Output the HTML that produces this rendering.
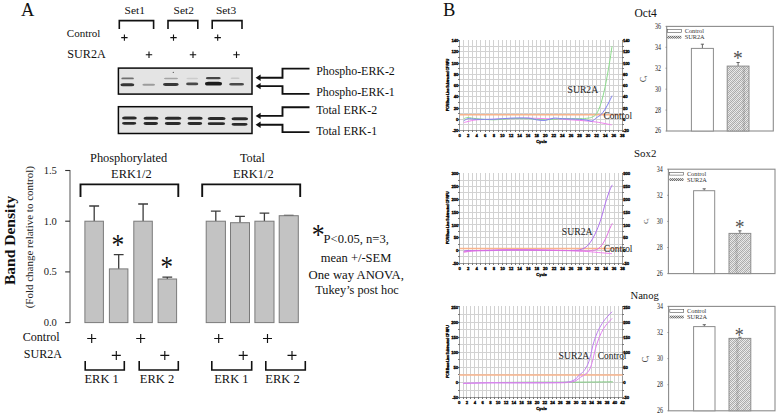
<!DOCTYPE html>
<html><head><meta charset="utf-8"><style>
html,body{margin:0;padding:0;background:#fff;width:780px;height:420px;overflow:hidden}
svg{display:block}
</style></head><body>
<svg width="780" height="420" viewBox="0 0 780 420">
<rect width="780" height="420" fill="#fff"/>
<g style="font-family:'Liberation Serif',serif" fill="#111">
<text x="21" y="16.3" font-size="18.5" text-anchor="start" >A</text>
<text x="134.75" y="14" font-size="11.4" text-anchor="middle" >Set1</text>
<text x="183.75" y="14" font-size="11.4" text-anchor="middle" >Set2</text>
<text x="226.05" y="14" font-size="11.4" text-anchor="middle" >Set3</text>
<text x="66.8" y="36.8" font-size="11.0" text-anchor="start" >Control</text>
<text x="67.2" y="57.5" font-size="12.2" text-anchor="start" >SUR2A</text>
</g>
<path d="M119.3,29V20.6H153.6V29" stroke="#111" stroke-width="1.6" fill="none"/>
<path d="M168,29V20.6H197.8V29" stroke="#111" stroke-width="1.6" fill="none"/>
<path d="M212.2,29V20.6H242V29" stroke="#111" stroke-width="1.6" fill="none"/>
<path d="M121.2,37.6H127.60000000000001M124.4,34.4V40.800000000000004" stroke="#111" stroke-width="1.1" fill="none"/>
<path d="M170.3,37.6H176.7M173.5,34.4V40.800000000000004" stroke="#111" stroke-width="1.1" fill="none"/>
<path d="M214.5,37.6H220.89999999999998M217.7,34.4V40.800000000000004" stroke="#111" stroke-width="1.1" fill="none"/>
<path d="M145.8,54.8H152.2M149,51.599999999999994V58.0" stroke="#111" stroke-width="1.1" fill="none"/>
<path d="M189.8,54.8H196.2M193,51.599999999999994V58.0" stroke="#111" stroke-width="1.1" fill="none"/>
<path d="M233.3,54.8H239.7M236.5,51.599999999999994V58.0" stroke="#111" stroke-width="1.1" fill="none"/>
<defs><filter id="bl" x="-30%" y="-100%" width="160%" height="300%"><feGaussianBlur stdDeviation="0.55"/></filter><filter id="bl2" x="-30%" y="-100%" width="160%" height="300%"><feGaussianBlur stdDeviation="0.35"/></filter></defs>
<rect x="118.4" y="68.1" width="133.6" height="26" fill="#e4e4e4" stroke="#0a0a0a" stroke-width="1.5"/>
<rect x="118.4" y="106.7" width="133.6" height="26.8" fill="#e4e4e4" stroke="#0a0a0a" stroke-width="1.5"/>
<rect x="121.3" y="77.50" width="12.6" height="1.80" rx="1.62" ry="0.90" fill="#707070" opacity="1.0" filter="url(#bl)"/>
<rect x="164.0" y="77.70" width="14.0" height="1.60" rx="1.44" ry="0.80" fill="#a4a4a4" opacity="1.0" filter="url(#bl)"/>
<rect x="186.5" y="77.65" width="11.5" height="1.50" rx="1.35" ry="0.75" fill="#ccc" opacity="1.0" filter="url(#bl)"/>
<rect x="205.9" y="77.10" width="14.8" height="2.20" rx="1.98" ry="1.10" fill="#444" opacity="1.0" filter="url(#bl)"/>
<rect x="230.6" y="77.45" width="9.0" height="1.50" rx="1.35" ry="0.75" fill="#c8c8c8" opacity="1.0" filter="url(#bl)"/>
<rect x="120.4" y="83.30" width="13.9" height="3.00" rx="2.70" ry="1.50" fill="#353535" opacity="1.0" filter="url(#bl)"/>
<rect x="142.4" y="83.80" width="12.6" height="2.00" rx="1.80" ry="1.00" fill="#9c9c9c" opacity="1.0" filter="url(#bl)"/>
<rect x="163.0" y="83.05" width="15.7" height="2.90" rx="2.61" ry="1.45" fill="#383838" opacity="1.0" filter="url(#bl)"/>
<rect x="186.1" y="82.60" width="12.2" height="2.60" rx="2.34" ry="1.30" fill="#4a4a4a" opacity="1.0" filter="url(#bl)"/>
<rect x="205.0" y="81.80" width="17.0" height="3.80" rx="3.42" ry="1.90" fill="#1e1e1e" opacity="1.0" filter="url(#bl)"/>
<rect x="229.2" y="82.90" width="14.8" height="2.60" rx="2.34" ry="1.30" fill="#484848" opacity="1.0" filter="url(#bl)"/>
<rect x="122.0" y="116.40" width="14.8" height="3.00" rx="2.70" ry="1.50" fill="#2b2b2b" opacity="1.0" filter="url(#bl)"/>
<rect x="122.0" y="121.90" width="14.3" height="2.80" rx="2.52" ry="1.40" fill="#2b2b2b" opacity="1.0" filter="url(#bl)"/>
<rect x="143.5" y="116.70" width="15.0" height="3.00" rx="2.70" ry="1.50" fill="#2b2b2b" opacity="1.0" filter="url(#bl)"/>
<rect x="143.5" y="122.10" width="14.5" height="2.80" rx="2.52" ry="1.40" fill="#2b2b2b" opacity="1.0" filter="url(#bl)"/>
<rect x="164.8" y="116.80" width="16.6" height="3.00" rx="2.70" ry="1.50" fill="#2b2b2b" opacity="1.0" filter="url(#bl)"/>
<rect x="164.8" y="122.10" width="16.1" height="2.80" rx="2.52" ry="1.40" fill="#2b2b2b" opacity="1.0" filter="url(#bl)"/>
<rect x="187.5" y="116.80" width="15.2" height="3.00" rx="2.70" ry="1.50" fill="#2b2b2b" opacity="1.0" filter="url(#bl)"/>
<rect x="187.5" y="122.10" width="14.7" height="2.80" rx="2.52" ry="1.40" fill="#2b2b2b" opacity="1.0" filter="url(#bl)"/>
<rect x="207.7" y="117.10" width="17.9" height="3.00" rx="2.70" ry="1.50" fill="#2b2b2b" opacity="1.0" filter="url(#bl)"/>
<rect x="207.7" y="122.30" width="17.4" height="2.80" rx="2.52" ry="1.40" fill="#2b2b2b" opacity="1.0" filter="url(#bl)"/>
<rect x="231.5" y="117.30" width="16.6" height="3.00" rx="2.70" ry="1.50" fill="#2b2b2b" opacity="1.0" filter="url(#bl)"/>
<rect x="231.5" y="122.90" width="16.1" height="2.80" rx="2.52" ry="1.40" fill="#2b2b2b" opacity="1.0" filter="url(#bl)"/>
<circle cx="173.3" cy="72.4" r="0.6" fill="#555"/>
<path d="M259.5,77.7H282.5V68.6H309.5" stroke="#111" stroke-width="1.9" fill="none"/>
<path d="M255.6,77.7L260.6,74.5V80.9Z" fill="#111"/>
<path d="M259.5,86.1H282.5V93.9H309.5" stroke="#111" stroke-width="1.9" fill="none"/>
<path d="M255.6,86.1L260.6,82.89999999999999V89.3Z" fill="#111"/>
<path d="M259.5,115.9H282.5V107.2H309.5" stroke="#111" stroke-width="1.9" fill="none"/>
<path d="M255.6,115.9L260.6,112.7V119.10000000000001Z" fill="#111"/>
<path d="M259.5,124.8H282.5V132.1H309.5" stroke="#111" stroke-width="1.9" fill="none"/>
<path d="M255.6,124.8L260.6,121.6V128.0Z" fill="#111"/>
<g style="font-family:'Liberation Serif',serif" fill="#111">
<text x="316.2" y="75.4" font-size="11.9" text-anchor="start" >Phospho-ERK-2</text>
<text x="316.2" y="95.6" font-size="11.9" text-anchor="start" >Phospho-ERK-1</text>
<text x="316.2" y="113.6" font-size="11.9" text-anchor="start" >Total ERK-2</text>
<text x="316.2" y="135.0" font-size="11.9" text-anchor="start" >Total ERK-1</text>
</g>
<path d="M70,170.0V323.1" stroke="#707070" stroke-width="1.2" fill="none"/>
<path d="M65.2,322.6H70" stroke="#333" stroke-width="1.1"/>
<path d="M65.2,271.9H70" stroke="#333" stroke-width="1.1"/>
<path d="M65.2,221.2H70" stroke="#333" stroke-width="1.1"/>
<path d="M65.2,170.5H70" stroke="#333" stroke-width="1.1"/>
<g style="font-family:'Liberation Serif',serif" fill="#222">
<text x="56.9" y="325.90000000000003" font-size="10.6" text-anchor="end" >0.0</text>
<text x="56.9" y="275.20000000000005" font-size="10.6" text-anchor="end" >0.5</text>
<text x="56.9" y="224.50000000000003" font-size="10.6" text-anchor="end" >1.0</text>
<text x="56.9" y="173.8" font-size="10.6" text-anchor="end" >1.5</text>
</g>
<path d="M94.2,221.2V206.0M89.2,206.0H99.1" stroke="#3c3c3c" stroke-width="1.3" fill="none"/>
<rect x="84.9" y="221.2" width="18.5" height="101.4" fill="#c3c3c3" stroke="#7a7a7a" stroke-width="1"/>
<path d="M118.7,268.9V254.7M113.8,254.7H123.6" stroke="#3c3c3c" stroke-width="1.3" fill="none"/>
<rect x="109.4" y="268.9" width="18.5" height="53.7" fill="#c3c3c3" stroke="#7a7a7a" stroke-width="1"/>
<path d="M143.1,221.2V204.0M138.2,204.0H148.0" stroke="#3c3c3c" stroke-width="1.3" fill="none"/>
<rect x="133.8" y="221.2" width="18.5" height="101.4" fill="#c3c3c3" stroke="#7a7a7a" stroke-width="1"/>
<path d="M167.3,279.0V277.2M162.4,277.2H172.2" stroke="#3c3c3c" stroke-width="1.3" fill="none"/>
<rect x="158.1" y="279.0" width="18.5" height="43.6" fill="#c3c3c3" stroke="#7a7a7a" stroke-width="1"/>
<path d="M215.8,221.2V211.1M210.9,211.1H220.7" stroke="#3c3c3c" stroke-width="1.3" fill="none"/>
<rect x="206.2" y="221.2" width="19.2" height="101.4" fill="#c3c3c3" stroke="#7a7a7a" stroke-width="1"/>
<path d="M240.0,222.7V216.3M235.1,216.3H244.9" stroke="#3c3c3c" stroke-width="1.3" fill="none"/>
<rect x="230.5" y="222.7" width="19.0" height="99.9" fill="#c3c3c3" stroke="#7a7a7a" stroke-width="1"/>
<path d="M264.4,221.2V213.1M259.6,213.1H269.3" stroke="#3c3c3c" stroke-width="1.3" fill="none"/>
<rect x="254.9" y="221.2" width="19.1" height="101.4" fill="#c3c3c3" stroke="#7a7a7a" stroke-width="1"/>
<path d="M288.8,215.7V215.3M283.9,215.3H293.6" stroke="#3c3c3c" stroke-width="1.3" fill="none"/>
<rect x="279.2" y="215.7" width="19.1" height="106.9" fill="#c3c3c3" stroke="#7a7a7a" stroke-width="1"/>
<text x="0" y="93.5" font-size="200" text-anchor="middle" transform="translate(117.8,240.9) scale(0.1275,0.1452)" style="font-family:'Liberation Serif',serif" fill="#111">*</text>
<text x="0" y="93.5" font-size="200" text-anchor="middle" transform="translate(166.7,262.3) scale(0.1250,0.1507)" style="font-family:'Liberation Serif',serif" fill="#111">*</text>
<text x="0" y="93.5" font-size="200" text-anchor="middle" transform="translate(318.1,230.4) scale(0.1288,0.1507)" style="font-family:'Liberation Serif',serif" fill="#111">*</text>
<g style="font-family:'Liberation Serif',serif" fill="#111">
<text x="128.55" y="161.7" font-size="12.4" text-anchor="middle" >Phosphorylated</text>
<text x="131.4" y="178.0" font-size="12.4" text-anchor="middle" >ERK1/2</text>
<text x="252.4" y="162.0" font-size="12.2" text-anchor="middle" >Total</text>
<text x="253.3" y="178.0" font-size="12.4" text-anchor="middle" >ERK1/2</text>
<text x="356.25" y="243.4" font-size="12.6" text-anchor="middle" >P&lt;0.05, n=3,</text>
<text x="356.0" y="262.4" font-size="12.5" text-anchor="middle" >mean +/-SEM</text>
<text x="356.25" y="278.8" font-size="12.7" text-anchor="middle" >One way ANOVA,</text>
<text x="357.0" y="294.3" font-size="12.3" text-anchor="middle" >Tukey’s post hoc</text>
<text x="59.6" y="341.1" font-size="12.1" text-anchor="end" >Control</text>
<text x="62.0" y="357.5" font-size="12.1" text-anchor="end" >SUR2A</text>
<text x="101.65" y="382.7" font-size="12.5" text-anchor="middle" >ERK 1</text>
<text x="157.0" y="382.7" font-size="12.5" text-anchor="middle" >ERK 2</text>
<text x="231.35" y="382.7" font-size="12.5" text-anchor="middle" >ERK 1</text>
<text x="282.5" y="382.7" font-size="12.5" text-anchor="middle" >ERK 2</text>
</g>
<text transform="translate(14.7,240.4) rotate(-90)" font-size="15.5" font-weight="bold" text-anchor="middle" style="font-family:'Liberation Serif',serif" fill="#111">Band Density</text>
<text transform="translate(33.0,237.2) rotate(-90)" font-size="11.0" text-anchor="middle" style="font-family:'Liberation Serif',serif" fill="#222">(Fold change relative to control)</text>
<path d="M80.5,197.0V184.4H178.3V197.0" stroke="#111" stroke-width="1.9" fill="none"/>
<path d="M202.2,197.0V184.4H300.2V197.0" stroke="#111" stroke-width="1.9" fill="none"/>
<path d="M87.2,338.5H96.2M91.7,334.0V343.0" stroke="#111" stroke-width="1.15" fill="none"/>
<path d="M136.2,338.5H145.2M140.7,334.0V343.0" stroke="#111" stroke-width="1.15" fill="none"/>
<path d="M214.2,338.5H223.2M218.7,334.0V343.0" stroke="#111" stroke-width="1.15" fill="none"/>
<path d="M263.0,338.5H272.0M267.5,334.0V343.0" stroke="#111" stroke-width="1.15" fill="none"/>
<path d="M111.8,355.4H120.8M116.3,350.9V359.9" stroke="#111" stroke-width="1.15" fill="none"/>
<path d="M160.3,355.4H169.3M164.8,350.9V359.9" stroke="#111" stroke-width="1.15" fill="none"/>
<path d="M238.7,355.4H247.7M243.2,350.9V359.9" stroke="#111" stroke-width="1.15" fill="none"/>
<path d="M287.5,355.4H296.5M292.0,350.9V359.9" stroke="#111" stroke-width="1.15" fill="none"/>
<path d="M85.2,361V370H124.3V361" stroke="#111" stroke-width="1.6" fill="none"/>
<path d="M139.2,361V370H178.3V361" stroke="#111" stroke-width="1.6" fill="none"/>
<path d="M211.8,361V370H251.7V361" stroke="#111" stroke-width="1.6" fill="none"/>
<path d="M265.8,361V370H305.3V361" stroke="#111" stroke-width="1.6" fill="none"/>
<text x="443" y="16.3" font-size="18.5" style="font-family:'Liberation Serif',serif" fill="#111">B</text>
<path d="M463.5,40V131M468.5,40V131M472.5,40V131M476.5,40V131M480.5,40V131M485.5,40V131M489.5,40V131M493.5,40V131M498.5,40V131M502.5,40V131M506.5,40V131M510.5,40V131M515.5,40V131M519.5,40V131M523.5,40V131M528.5,40V131M532.5,40V131M536.5,40V131M540.5,40V131M545.5,40V131M549.5,40V131M553.5,40V131M558.5,40V131M562.5,40V131M566.5,40V131M570.5,40V131M575.5,40V131M579.5,40V131M583.5,40V131M588.5,40V131M592.5,40V131M596.5,40V131M600.5,40V131M605.5,40V131M609.5,40V131M613.5,40V131M618.5,40V131M459,46.5H623M459,51.5H623M459,57.5H623M459,63.5H623M459,68.5H623M459,74.5H623M459,79.5H623M459,85.5H623M459,91.5H623M459,96.5H623M459,102.5H623M459,108.5H623M459,113.5H623M459,119.5H623M459,124.5H623" stroke="#d2d2d2" stroke-width="1" fill="none" shape-rendering="crispEdges"/>
<path d="M459.5,40.5V130.5H622.5V40.5" fill="none" stroke="#9a9a9a" stroke-width="1" shape-rendering="crispEdges"/>
<path d="M459.5,130V132M463.5,130V132M468.5,130V132M472.5,130V132M476.5,130V132M480.5,130V132M485.5,130V132M489.5,130V132M493.5,130V132M498.5,130V132M502.5,130V132M506.5,130V132M510.5,130V132M515.5,130V132M519.5,130V132M523.5,130V132M528.5,130V132M532.5,130V132M536.5,130V132M540.5,130V132M545.5,130V132M549.5,130V132M553.5,130V132M558.5,130V132M562.5,130V132M566.5,130V132M570.5,130V132M575.5,130V132M579.5,130V132M583.5,130V132M588.5,130V132M592.5,130V132M596.5,130V132M600.5,130V132M605.5,130V132M609.5,130V132M613.5,130V132M618.5,130V132M622.5,130V132M458,40.5H460M622,40.5H624M458,46.5H460M622,46.5H624M458,51.5H460M622,51.5H624M458,57.5H460M622,57.5H624M458,63.5H460M622,63.5H624M458,68.5H460M622,68.5H624M458,74.5H460M622,74.5H624M458,79.5H460M622,79.5H624M458,85.5H460M622,85.5H624M458,91.5H460M622,91.5H624M458,96.5H460M622,96.5H624M458,102.5H460M622,102.5H624M458,108.5H460M622,108.5H624M458,113.5H460M622,113.5H624M458,119.5H460M622,119.5H624M458,124.5H460M622,124.5H624M458,130.5H460M622,130.5H624" stroke="#777" stroke-width="1" fill="none" shape-rendering="crispEdges"/>
<path d="M459.5,114.77H622.3" stroke="#f8b48c" stroke-width="1.6"/>
<path d="M463.78,122.63C464.50,122.45 465.93,121.98 468.07,121.51C470.21,121.04 472.35,120.20 476.64,119.82C480.92,119.45 488.06,119.45 493.77,119.26C499.49,119.08 505.20,118.89 510.91,118.70C516.62,118.51 522.34,118.14 528.05,118.14C533.76,118.14 539.47,118.51 545.18,118.70C550.90,118.89 556.61,118.98 562.32,119.26C568.03,119.54 573.75,119.92 579.46,120.39C585.17,120.85 591.24,121.32 596.59,122.07C601.95,122.82 609.09,124.41 611.59,124.88" stroke="#f080f0" stroke-width="1.0" fill="none" stroke-linejoin="round"/>
<path d="M463.78,118.70C464.50,118.51 465.93,117.58 468.07,117.58C470.21,117.58 472.35,118.33 476.64,118.70C480.92,119.08 488.06,119.82 493.77,119.82C499.49,119.82 505.20,118.89 510.91,118.70C516.62,118.51 522.34,118.51 528.05,118.70C533.76,118.89 539.47,119.82 545.18,119.82C550.90,119.82 556.61,118.89 562.32,118.70C568.03,118.51 575.17,118.79 579.46,118.70C583.74,118.61 585.88,118.42 588.03,118.14C590.17,117.86 590.88,117.76 592.31,117.02C593.74,116.27 595.17,115.89 596.59,113.64C598.02,111.40 599.45,108.03 600.88,103.53C602.31,99.03 603.74,93.42 605.16,86.67C606.59,79.93 608.30,69.82 609.45,63.08C610.59,56.33 611.59,49.03 612.02,46.22" stroke="#8cdc8c" stroke-width="1.0" fill="none" stroke-linejoin="round"/>
<path d="M463.78,120.95C464.50,120.57 465.93,118.98 468.07,118.70C470.21,118.42 472.35,119.17 476.64,119.26C480.92,119.36 488.06,119.45 493.77,119.26C499.49,119.08 505.20,118.33 510.91,118.14C516.62,117.95 523.76,117.86 528.05,118.14C532.33,118.42 533.76,119.45 536.62,119.82C539.47,120.20 542.33,120.67 545.18,120.39C548.04,120.11 550.90,118.42 553.75,118.14C556.61,117.86 558.04,118.51 562.32,118.70C566.61,118.89 575.17,118.98 579.46,119.26C583.74,119.54 585.88,120.11 588.03,120.39C590.17,120.67 590.88,121.42 592.31,120.95C593.74,120.48 595.17,118.61 596.59,117.58C598.02,116.55 599.45,116.17 600.88,114.77C602.31,113.36 603.74,111.40 605.16,109.15C606.59,106.90 608.30,103.53 609.45,101.28C610.59,99.03 611.59,96.60 612.02,95.66" stroke="#8080f0" stroke-width="1.0" fill="none" stroke-linejoin="round"/>
<g style="font-family:'Liberation Sans',sans-serif" font-weight="bold" font-size="4.3" fill="#000" stroke="#000" stroke-width="0.3" letter-spacing="-0.15">
<text x="458.20" y="42.20" text-anchor="end">140</text>
<text x="622.90" y="42.20">140</text>
<text x="458.20" y="53.44" text-anchor="end">120</text>
<text x="622.90" y="53.44">120</text>
<text x="458.20" y="64.67" text-anchor="end">100</text>
<text x="622.90" y="64.67">100</text>
<text x="458.20" y="75.91" text-anchor="end">80</text>
<text x="622.90" y="75.91">80</text>
<text x="458.20" y="87.15" text-anchor="end">60</text>
<text x="622.90" y="87.15">60</text>
<text x="458.20" y="98.39" text-anchor="end">40</text>
<text x="622.90" y="98.39">40</text>
<text x="458.20" y="109.62" text-anchor="end">20</text>
<text x="622.90" y="109.62">20</text>
<text x="458.20" y="120.86" text-anchor="end">0</text>
<text x="622.90" y="120.86">0</text>
<text x="458.20" y="132.10" text-anchor="end">-20</text>
<text x="622.90" y="132.10">-20</text>
<text x="459.50" y="136.80" text-anchor="middle">0</text>
<text x="468.07" y="136.80" text-anchor="middle">2</text>
<text x="476.64" y="136.80" text-anchor="middle">4</text>
<text x="485.21" y="136.80" text-anchor="middle">6</text>
<text x="493.77" y="136.80" text-anchor="middle">8</text>
<text x="502.34" y="136.80" text-anchor="middle">10</text>
<text x="510.91" y="136.80" text-anchor="middle">12</text>
<text x="519.48" y="136.80" text-anchor="middle">14</text>
<text x="528.05" y="136.80" text-anchor="middle">16</text>
<text x="536.62" y="136.80" text-anchor="middle">18</text>
<text x="545.18" y="136.80" text-anchor="middle">20</text>
<text x="553.75" y="136.80" text-anchor="middle">22</text>
<text x="562.32" y="136.80" text-anchor="middle">24</text>
<text x="570.89" y="136.80" text-anchor="middle">26</text>
<text x="579.46" y="136.80" text-anchor="middle">28</text>
<text x="588.03" y="136.80" text-anchor="middle">30</text>
<text x="596.59" y="136.80" text-anchor="middle">32</text>
<text x="605.16" y="136.80" text-anchor="middle">34</text>
<text x="613.73" y="136.80" text-anchor="middle">36</text>
<text x="622.30" y="136.80" text-anchor="middle">38</text>
<text x="541.40" y="142.90" text-anchor="middle" font-size="4.2">Cycle</text>
<text transform="translate(449.30,84.95) rotate(-90)" text-anchor="middle" font-size="3.45">PCR Base Line Subtracted CF RFU</text>
</g>
<g style="font-family:'Liberation Serif',serif" fill="#222">
<text x="567.5" y="92.6" font-size="9.7" text-anchor="start" >SUR2A</text>
<text x="603.4" y="118.7" font-size="9.4" text-anchor="start" >Control</text>
</g>
<path d="M463.5,173V264M468.5,173V264M472.5,173V264M476.5,173V264M480.5,173V264M485.5,173V264M489.5,173V264M493.5,173V264M498.5,173V264M502.5,173V264M506.5,173V264M511.5,173V264M515.5,173V264M519.5,173V264M523.5,173V264M528.5,173V264M532.5,173V264M536.5,173V264M541.5,173V264M545.5,173V264M549.5,173V264M553.5,173V264M558.5,173V264M562.5,173V264M566.5,173V264M571.5,173V264M575.5,173V264M579.5,173V264M583.5,173V264M588.5,173V264M592.5,173V264M596.5,173V264M601.5,173V264M605.5,173V264M609.5,173V264M614.5,173V264M618.5,173V264M459,180.5H623M459,186.5H623M459,192.5H623M459,199.5H623M459,205.5H623M459,212.5H623M459,218.5H623M459,224.5H623M459,231.5H623M459,237.5H623M459,244.5H623M459,250.5H623M459,256.5H623" stroke="#d2d2d2" stroke-width="1" fill="none" shape-rendering="crispEdges"/>
<path d="M459.5,173.5V263.5H622.5V173.5" fill="none" stroke="#9a9a9a" stroke-width="1" shape-rendering="crispEdges"/>
<path d="M459.5,263V265M463.5,263V265M468.5,263V265M472.5,263V265M476.5,263V265M480.5,263V265M485.5,263V265M489.5,263V265M493.5,263V265M498.5,263V265M502.5,263V265M506.5,263V265M511.5,263V265M515.5,263V265M519.5,263V265M523.5,263V265M528.5,263V265M532.5,263V265M536.5,263V265M541.5,263V265M545.5,263V265M549.5,263V265M553.5,263V265M558.5,263V265M562.5,263V265M566.5,263V265M571.5,263V265M575.5,263V265M579.5,263V265M583.5,263V265M588.5,263V265M592.5,263V265M596.5,263V265M601.5,263V265M605.5,263V265M609.5,263V265M614.5,263V265M618.5,263V265M622.5,263V265M458,173.5H460M622,173.5H624M458,180.5H460M622,180.5H624M458,186.5H460M622,186.5H624M458,192.5H460M622,192.5H624M458,199.5H460M622,199.5H624M458,205.5H460M622,205.5H624M458,212.5H460M622,212.5H624M458,218.5H460M622,218.5H624M458,224.5H460M622,224.5H624M458,231.5H460M622,231.5H624M458,237.5H460M622,237.5H624M458,244.5H460M622,244.5H624M458,250.5H460M622,250.5H624M458,256.5H460M622,256.5H624M458,263.5H460M622,263.5H624" stroke="#777" stroke-width="1" fill="none" shape-rendering="crispEdges"/>
<path d="M459.5,248.52H622.6" stroke="#f8b48c" stroke-width="1.6"/>
<path d="M463.79,252.62C464.51,252.45 465.94,251.90 468.08,251.60C470.23,251.30 472.38,251.00 476.67,250.83C480.96,250.66 488.11,250.74 493.84,250.57C499.56,250.40 505.28,249.93 511.01,249.80C516.73,249.67 522.45,249.76 528.17,249.80C533.90,249.84 539.62,249.97 545.34,250.06C551.06,250.14 556.79,250.14 562.51,250.31C568.23,250.49 575.39,250.87 579.68,251.08C583.97,251.30 585.40,251.38 588.26,251.60C591.12,251.81 592.91,252.03 596.85,252.37C600.78,252.71 609.37,253.44 611.87,253.65" stroke="#f080f0" stroke-width="1.0" fill="none" stroke-linejoin="round"/>
<path d="M463.79,251.08C464.51,251.00 464.51,250.66 468.08,250.57C471.66,250.49 479.53,250.66 485.25,250.57C490.98,250.49 495.27,250.14 502.42,250.06C509.57,249.97 521.02,250.02 528.17,250.06C535.33,250.10 539.62,250.23 545.34,250.31C551.06,250.40 557.50,250.57 562.51,250.57C567.52,250.57 572.53,250.44 575.39,250.31C578.25,250.19 578.25,250.14 579.68,249.80C581.11,249.46 582.54,249.07 583.97,248.26C585.40,247.45 586.83,246.51 588.26,244.93C589.69,243.34 591.12,241.25 592.56,238.77C593.99,236.29 595.42,233.42 596.85,230.05C598.28,226.67 599.71,222.99 601.14,218.50C602.57,214.01 604.00,207.81 605.43,203.11C606.86,198.40 608.58,193.31 609.72,190.28C610.87,187.24 611.87,185.79 612.30,184.89" stroke="#b070f0" stroke-width="1.0" fill="none" stroke-linejoin="round"/>
<path d="M463.79,251.60C465.94,251.43 470.23,250.83 476.67,250.57C483.11,250.31 490.98,250.10 502.42,250.06C513.87,250.02 532.47,250.19 545.34,250.31C558.22,250.44 572.53,250.74 579.68,250.83C586.83,250.91 586.12,250.91 588.26,250.83C590.41,250.74 591.12,250.53 592.56,250.31C593.99,250.10 595.42,250.27 596.85,249.55C598.28,248.82 599.71,247.71 601.14,245.95C602.57,244.20 604.00,241.89 605.43,239.03C606.86,236.16 608.58,231.37 609.72,228.76C610.87,226.15 611.87,224.27 612.30,223.37" stroke="#e070e0" stroke-width="1.0" fill="none" stroke-linejoin="round"/>
<g style="font-family:'Liberation Sans',sans-serif" font-weight="bold" font-size="4.3" fill="#000" stroke="#000" stroke-width="0.3" letter-spacing="-0.15">
<text x="458.20" y="175.20" text-anchor="end">300</text>
<text x="623.20" y="175.20">300</text>
<text x="458.20" y="188.03" text-anchor="end">250</text>
<text x="623.20" y="188.03">250</text>
<text x="458.20" y="200.86" text-anchor="end">200</text>
<text x="623.20" y="200.86">200</text>
<text x="458.20" y="213.69" text-anchor="end">150</text>
<text x="623.20" y="213.69">150</text>
<text x="458.20" y="226.51" text-anchor="end">100</text>
<text x="623.20" y="226.51">100</text>
<text x="458.20" y="239.34" text-anchor="end">50</text>
<text x="623.20" y="239.34">50</text>
<text x="458.20" y="252.17" text-anchor="end">0</text>
<text x="623.20" y="252.17">0</text>
<text x="458.20" y="265.00" text-anchor="end">-50</text>
<text x="623.20" y="265.00">-50</text>
<text x="459.50" y="269.70" text-anchor="middle">0</text>
<text x="468.08" y="269.70" text-anchor="middle">2</text>
<text x="476.67" y="269.70" text-anchor="middle">4</text>
<text x="485.25" y="269.70" text-anchor="middle">6</text>
<text x="493.84" y="269.70" text-anchor="middle">8</text>
<text x="502.42" y="269.70" text-anchor="middle">10</text>
<text x="511.01" y="269.70" text-anchor="middle">12</text>
<text x="519.59" y="269.70" text-anchor="middle">14</text>
<text x="528.17" y="269.70" text-anchor="middle">16</text>
<text x="536.76" y="269.70" text-anchor="middle">18</text>
<text x="545.34" y="269.70" text-anchor="middle">20</text>
<text x="553.93" y="269.70" text-anchor="middle">22</text>
<text x="562.51" y="269.70" text-anchor="middle">24</text>
<text x="571.09" y="269.70" text-anchor="middle">26</text>
<text x="579.68" y="269.70" text-anchor="middle">28</text>
<text x="588.26" y="269.70" text-anchor="middle">30</text>
<text x="596.85" y="269.70" text-anchor="middle">32</text>
<text x="605.43" y="269.70" text-anchor="middle">34</text>
<text x="614.02" y="269.70" text-anchor="middle">36</text>
<text x="622.60" y="269.70" text-anchor="middle">38</text>
<text x="541.55" y="275.80" text-anchor="middle" font-size="4.2">Cycle</text>
<text transform="translate(449.30,217.90) rotate(-90)" text-anchor="middle" font-size="3.45">PCR Base Line Subtracted CF RFU</text>
</g>
<g style="font-family:'Liberation Serif',serif" fill="#222">
<text x="561.8" y="234.5" font-size="9.7" text-anchor="start" >SUR2A</text>
<text x="603.8" y="252.2" font-size="9.4" text-anchor="start" >Control</text>
</g>
<path d="M463.5,306V398M466.5,306V398M470.5,306V398M474.5,306V398M478.5,306V398M482.5,306V398M486.5,306V398M490.5,306V398M494.5,306V398M498.5,306V398M501.5,306V398M505.5,306V398M509.5,306V398M513.5,306V398M517.5,306V398M521.5,306V398M525.5,306V398M529.5,306V398M533.5,306V398M537.5,306V398M540.5,306V398M544.5,306V398M548.5,306V398M552.5,306V398M556.5,306V398M560.5,306V398M564.5,306V398M568.5,306V398M572.5,306V398M575.5,306V398M579.5,306V398M583.5,306V398M587.5,306V398M591.5,306V398M595.5,306V398M599.5,306V398M603.5,306V398M607.5,306V398M610.5,306V398M614.5,306V398M618.5,306V398M459,314.5H623M459,322.5H623M459,329.5H623M459,337.5H623M459,344.5H623M459,352.5H623M459,359.5H623M459,367.5H623M459,374.5H623M459,382.5H623M459,390.5H623" stroke="#d2d2d2" stroke-width="1" fill="none" shape-rendering="crispEdges"/>
<path d="M459.5,306.5V397.5H622.5V306.5" fill="none" stroke="#9a9a9a" stroke-width="1" shape-rendering="crispEdges"/>
<path d="M459.5,397V399M463.5,397V399M466.5,397V399M470.5,397V399M474.5,397V399M478.5,397V399M482.5,397V399M486.5,397V399M490.5,397V399M494.5,397V399M498.5,397V399M501.5,397V399M505.5,397V399M509.5,397V399M513.5,397V399M517.5,397V399M521.5,397V399M525.5,397V399M529.5,397V399M533.5,397V399M537.5,397V399M540.5,397V399M544.5,397V399M548.5,397V399M552.5,397V399M556.5,397V399M560.5,397V399M564.5,397V399M568.5,397V399M572.5,397V399M575.5,397V399M579.5,397V399M583.5,397V399M587.5,397V399M591.5,397V399M595.5,397V399M599.5,397V399M603.5,397V399M607.5,397V399M610.5,397V399M614.5,397V399M618.5,397V399M622.5,397V399M458,306.5H460M622,306.5H624M458,314.5H460M622,314.5H624M458,322.5H460M622,322.5H624M458,329.5H460M622,329.5H624M458,337.5H460M622,337.5H624M458,344.5H460M622,344.5H624M458,352.5H460M622,352.5H624M458,359.5H460M622,359.5H624M458,367.5H460M622,367.5H624M458,374.5H460M622,374.5H624M458,382.5H460M622,382.5H624M458,390.5H460M622,390.5H624M458,397.5H460M622,397.5H624" stroke="#777" stroke-width="1" fill="none" shape-rendering="crispEdges"/>
<path d="M459.2,374.93H622.6" stroke="#f8b48c" stroke-width="1.6"/>
<path d="M498.10,382.48C504.59,382.43 524.04,382.23 537.01,382.18C549.98,382.13 563.27,382.23 575.91,382.18C588.56,382.13 606.71,381.93 612.87,381.88" stroke="#7cc87c" stroke-width="1.0" fill="none" stroke-linejoin="round"/>
<path d="M463.09,383.39C465.04,383.34 470.22,383.19 474.76,383.09C479.30,382.99 483.84,382.84 490.32,382.79C496.81,382.74 505.89,382.79 513.67,382.79C521.45,382.79 529.23,382.84 537.01,382.79C544.79,382.74 555.17,382.63 560.35,382.48C565.54,382.33 566.19,382.13 568.13,381.88C570.08,381.63 570.73,381.48 572.02,380.97C573.32,380.47 574.81,379.76 575.91,378.86C577.02,377.95 577.73,376.44 578.64,375.53C579.55,374.62 580.45,374.22 581.36,373.41C582.27,372.61 582.98,372.25 584.08,370.69C585.19,369.13 586.84,366.76 587.97,364.04C589.11,361.32 590.10,357.39 590.89,354.37C591.69,351.34 591.96,348.87 592.76,345.90C593.56,342.93 594.56,339.50 595.68,336.53C596.79,333.56 597.88,330.94 599.45,328.06C601.02,325.19 602.99,322.02 605.09,319.30C607.20,316.57 610.93,313.00 612.10,311.74" stroke="#c080f0" stroke-width="1.0" fill="none" stroke-linejoin="round"/>
<path d="M463.09,383.39C465.04,383.34 470.22,383.19 474.76,383.09C479.30,382.99 483.84,382.84 490.32,382.79C496.81,382.74 505.89,382.79 513.67,382.79C521.45,382.79 529.23,382.79 537.01,382.79C544.79,382.79 555.17,382.84 560.35,382.79C565.54,382.74 566.19,382.63 568.13,382.48C570.08,382.33 570.73,382.18 572.02,381.88C573.32,381.58 574.52,381.43 575.91,380.67C577.31,379.91 578.70,378.50 580.39,377.34C582.07,376.18 584.45,375.13 586.03,373.72C587.61,372.30 588.76,371.15 589.88,368.88C591.00,366.61 591.96,362.98 592.76,360.11C593.56,357.24 593.87,354.67 594.67,351.65C595.46,348.62 596.43,345.15 597.55,341.97C598.66,338.80 599.94,335.42 601.36,332.60C602.77,329.78 604.24,327.41 606.03,325.04C607.82,322.67 611.08,319.50 612.10,318.39" stroke="#e080f0" stroke-width="1.0" fill="none" stroke-linejoin="round"/>
<g style="font-family:'Liberation Sans',sans-serif" font-weight="bold" font-size="4.3" fill="#000" stroke="#000" stroke-width="0.3" letter-spacing="-0.15">
<text x="457.90" y="308.50" text-anchor="end">250</text>
<text x="623.20" y="308.50">250</text>
<text x="457.90" y="323.62" text-anchor="end">200</text>
<text x="623.20" y="323.62">200</text>
<text x="457.90" y="338.73" text-anchor="end">150</text>
<text x="623.20" y="338.73">150</text>
<text x="457.90" y="353.85" text-anchor="end">100</text>
<text x="623.20" y="353.85">100</text>
<text x="457.90" y="368.97" text-anchor="end">50</text>
<text x="623.20" y="368.97">50</text>
<text x="457.90" y="384.08" text-anchor="end">0</text>
<text x="623.20" y="384.08">0</text>
<text x="457.90" y="399.20" text-anchor="end">-50</text>
<text x="623.20" y="399.20">-50</text>
<text x="459.20" y="403.90" text-anchor="middle">0</text>
<text x="466.98" y="403.90" text-anchor="middle">2</text>
<text x="474.76" y="403.90" text-anchor="middle">4</text>
<text x="482.54" y="403.90" text-anchor="middle">6</text>
<text x="490.32" y="403.90" text-anchor="middle">8</text>
<text x="498.10" y="403.90" text-anchor="middle">10</text>
<text x="505.89" y="403.90" text-anchor="middle">12</text>
<text x="513.67" y="403.90" text-anchor="middle">14</text>
<text x="521.45" y="403.90" text-anchor="middle">16</text>
<text x="529.23" y="403.90" text-anchor="middle">18</text>
<text x="537.01" y="403.90" text-anchor="middle">20</text>
<text x="544.79" y="403.90" text-anchor="middle">22</text>
<text x="552.57" y="403.90" text-anchor="middle">24</text>
<text x="560.35" y="403.90" text-anchor="middle">26</text>
<text x="568.13" y="403.90" text-anchor="middle">28</text>
<text x="575.91" y="403.90" text-anchor="middle">30</text>
<text x="583.70" y="403.90" text-anchor="middle">32</text>
<text x="591.48" y="403.90" text-anchor="middle">34</text>
<text x="599.26" y="403.90" text-anchor="middle">36</text>
<text x="607.04" y="403.90" text-anchor="middle">38</text>
<text x="614.82" y="403.90" text-anchor="middle">40</text>
<text x="622.60" y="403.90" text-anchor="middle">42</text>
<text x="541.40" y="410.00" text-anchor="middle" font-size="4.2">Cycle</text>
<text transform="translate(449.00,351.65) rotate(-90)" text-anchor="middle" font-size="3.45">PCR Base Line Subtracted CF RFU</text>
</g>
<g style="font-family:'Liberation Serif',serif" fill="#222">
<text x="558.6" y="359.3" font-size="9.7" text-anchor="start" >SUR2A</text>
<text x="597.8" y="359.3" font-size="9.4" text-anchor="start" >Control</text>
</g>
<defs><pattern id="hatch" width="2" height="2" patternUnits="userSpaceOnUse"><rect width="2" height="2" fill="#ededed"/><rect width="1" height="1" fill="#b4b4b4"/><rect x="1" y="1" width="1" height="1" fill="#b4b4b4"/></pattern><pattern id="hatchL" width="2" height="2" patternUnits="userSpaceOnUse"><rect width="2" height="2" fill="#d4d4d4"/><rect width="1" height="1" fill="#6e6e6e"/><rect x="1" y="1" width="1" height="1" fill="#6e6e6e"/></pattern><pattern id="diag" width="4.2" height="4.2" patternUnits="userSpaceOnUse" patternTransform="rotate(45)"><rect width="1.6" height="4.2" fill="#000" fill-opacity="0.07"/></pattern></defs>
<rect x="666.7" y="26.4" width="106.6" height="104.6" fill="none" stroke="#8c8c8c" stroke-width="1.1"/>
<g style="font-family:'Liberation Serif',serif" fill="#222" font-size="7.4">
<path d="M665.5,26.4H666.7" stroke="#777" stroke-width="0.7"/>
<text x="661.0" y="28.8" text-anchor="end" textLength="6.0" lengthAdjust="spacingAndGlyphs">36</text>
<path d="M665.5,47.3H666.7" stroke="#777" stroke-width="0.7"/>
<text x="661.0" y="49.7" text-anchor="end" textLength="6.0" lengthAdjust="spacingAndGlyphs">34</text>
<path d="M665.5,68.2H666.7" stroke="#777" stroke-width="0.7"/>
<text x="661.0" y="70.6" text-anchor="end" textLength="6.0" lengthAdjust="spacingAndGlyphs">32</text>
<path d="M665.5,89.2H666.7" stroke="#777" stroke-width="0.7"/>
<text x="661.0" y="91.6" text-anchor="end" textLength="6.0" lengthAdjust="spacingAndGlyphs">30</text>
<path d="M665.5,110.1H666.7" stroke="#777" stroke-width="0.7"/>
<text x="661.0" y="112.5" text-anchor="end" textLength="6.0" lengthAdjust="spacingAndGlyphs">28</text>
<path d="M665.5,131.0H666.7" stroke="#777" stroke-width="0.7"/>
<text x="661.0" y="133.4" text-anchor="end" textLength="6.0" lengthAdjust="spacingAndGlyphs">26</text>
</g>
<path d="M702.4,48.4V44.2M700.8,44.2H704.0" stroke="#555" stroke-width="0.9" fill="none"/>
<rect x="691.4" y="48.4" width="22.0" height="82.6" fill="#ffffff" stroke="#8c8c8c" stroke-width="1"/>
<path d="M738.1,66.1V62.5M736.5,62.5H739.7" stroke="#555" stroke-width="0.9" fill="none"/>
<rect x="727.2" y="66.1" width="21.8" height="64.9" fill="url(#hatch)" stroke="#8c8c8c" stroke-width="1"/>
<rect x="727.7" y="66.6" width="20.8" height="63.9" fill="url(#diag)"/>
<rect x="742.6" y="66.6" width="2.4" height="63.9" fill="#000" fill-opacity="0.10"/>
<rect x="667.4" y="29.5" width="13.9" height="2.8" fill="#fff" stroke="#555" stroke-width="0.6"/>
<rect x="667.1" y="35.8" width="14.3" height="2.8" fill="url(#hatchL)"/>
<g style="font-family:'Liberation Serif',serif" fill="#333">
<text x="684.7" y="33.0" font-size="6.3" text-anchor="start" >Control</text>
<text x="684.7" y="39.3" font-size="6.3" text-anchor="start" >SUR2A</text>
</g>
<text x="634.5" y="16.7" font-size="11.5" text-anchor="start" style="font-family:'Liberation Serif',serif" fill="#111">Oct4</text>
<text transform="translate(645.9,78.8) rotate(-90)" font-size="7.6" text-anchor="middle" style="font-family:'Liberation Serif',serif" fill="#222">C<tspan font-size="4.7" dy="1.4">t</tspan></text>
<text x="0" y="93.5" font-size="200" text-anchor="middle" transform="translate(737.8,54.9) scale(0.0975,0.1068)" style="font-family:'Liberation Serif',serif" fill="#505050">*</text>
<rect x="668.4" y="169.2" width="106.6" height="104.4" fill="none" stroke="#8c8c8c" stroke-width="1.1"/>
<g style="font-family:'Liberation Serif',serif" fill="#222" font-size="7.4">
<path d="M667.1999999999999,169.2H668.4" stroke="#777" stroke-width="0.7"/>
<text x="662.7" y="171.6" text-anchor="end" textLength="6.0" lengthAdjust="spacingAndGlyphs">34</text>
<path d="M667.1999999999999,195.3H668.4" stroke="#777" stroke-width="0.7"/>
<text x="662.7" y="197.7" text-anchor="end" textLength="6.0" lengthAdjust="spacingAndGlyphs">32</text>
<path d="M667.1999999999999,221.4H668.4" stroke="#777" stroke-width="0.7"/>
<text x="662.7" y="223.8" text-anchor="end" textLength="6.0" lengthAdjust="spacingAndGlyphs">30</text>
<path d="M667.1999999999999,247.5H668.4" stroke="#777" stroke-width="0.7"/>
<text x="662.7" y="249.9" text-anchor="end" textLength="6.0" lengthAdjust="spacingAndGlyphs">28</text>
<path d="M667.1999999999999,273.6H668.4" stroke="#777" stroke-width="0.7"/>
<text x="662.7" y="276.0" text-anchor="end" textLength="6.0" lengthAdjust="spacingAndGlyphs">26</text>
</g>
<path d="M704.2,190.7V188.8M702.6,188.8H705.8" stroke="#555" stroke-width="0.9" fill="none"/>
<rect x="693.6" y="190.7" width="21.1" height="82.9" fill="#ffffff" stroke="#8c8c8c" stroke-width="1"/>
<path d="M739.9,233.4V230.8M738.3,230.8H741.5" stroke="#555" stroke-width="0.9" fill="none"/>
<rect x="729.0" y="233.4" width="21.8" height="40.2" fill="url(#hatch)" stroke="#8c8c8c" stroke-width="1"/>
<rect x="729.5" y="233.9" width="20.8" height="39.2" fill="url(#diag)"/>
<rect x="735.4" y="233.9" width="2.4" height="39.2" fill="#000" fill-opacity="0.10"/>
<rect x="669.6" y="172.3" width="13.9" height="2.8" fill="#fff" stroke="#555" stroke-width="0.6"/>
<rect x="669.3" y="178.2" width="14.3" height="2.8" fill="url(#hatchL)"/>
<g style="font-family:'Liberation Serif',serif" fill="#333">
<text x="686.9" y="175.8" font-size="6.3" text-anchor="start" >Control</text>
<text x="686.9" y="181.7" font-size="6.3" text-anchor="start" >SUR2A</text>
</g>
<text x="634.0" y="157.3" font-size="10.9" text-anchor="start" style="font-family:'Liberation Serif',serif" fill="#111">Sox2</text>
<text transform="translate(648.0,221.0) rotate(-90)" font-size="6.4" text-anchor="middle" style="font-family:'Liberation Serif',serif" fill="#222">C<tspan font-size="4.0" dy="1.2">t</tspan></text>
<text x="0" y="93.5" font-size="200" text-anchor="middle" transform="translate(739.8,224.0) scale(0.0950,0.1096)" style="font-family:'Liberation Serif',serif" fill="#505050">*</text>
<rect x="668.6" y="306.4" width="106.4" height="104.4" fill="none" stroke="#8c8c8c" stroke-width="1.1"/>
<g style="font-family:'Liberation Serif',serif" fill="#222" font-size="7.4">
<path d="M667.4,306.4H668.6" stroke="#777" stroke-width="0.7"/>
<text x="662.9" y="308.8" text-anchor="end" textLength="6.0" lengthAdjust="spacingAndGlyphs">34</text>
<path d="M667.4,332.5H668.6" stroke="#777" stroke-width="0.7"/>
<text x="662.9" y="334.9" text-anchor="end" textLength="6.0" lengthAdjust="spacingAndGlyphs">32</text>
<path d="M667.4,358.6H668.6" stroke="#777" stroke-width="0.7"/>
<text x="662.9" y="361.0" text-anchor="end" textLength="6.0" lengthAdjust="spacingAndGlyphs">30</text>
<path d="M667.4,384.7H668.6" stroke="#777" stroke-width="0.7"/>
<text x="662.9" y="387.1" text-anchor="end" textLength="6.0" lengthAdjust="spacingAndGlyphs">28</text>
<path d="M667.4,410.8H668.6" stroke="#777" stroke-width="0.7"/>
<text x="662.9" y="413.2" text-anchor="end" textLength="6.0" lengthAdjust="spacingAndGlyphs">26</text>
</g>
<path d="M704.3,326.6V324.7M702.7,324.7H705.9" stroke="#555" stroke-width="0.9" fill="none"/>
<rect x="693.6" y="326.6" width="21.4" height="84.2" fill="#ffffff" stroke="#8c8c8c" stroke-width="1"/>
<path d="M739.9,338.4V337.3M738.3,337.3H741.5" stroke="#555" stroke-width="0.9" fill="none"/>
<rect x="729.0" y="338.4" width="21.8" height="72.4" fill="url(#hatch)" stroke="#8c8c8c" stroke-width="1"/>
<rect x="729.5" y="338.9" width="20.8" height="71.4" fill="url(#diag)"/>
<rect x="736.2" y="338.9" width="2.4" height="71.4" fill="#000" fill-opacity="0.10"/>
<rect x="669.8" y="309.5" width="13.9" height="2.8" fill="#fff" stroke="#555" stroke-width="0.6"/>
<rect x="669.5" y="315.6" width="14.3" height="2.8" fill="url(#hatchL)"/>
<g style="font-family:'Liberation Serif',serif" fill="#333">
<text x="687.1" y="313.0" font-size="6.3" text-anchor="start" >Control</text>
<text x="687.1" y="319.1" font-size="6.3" text-anchor="start" >SUR2A</text>
</g>
<text x="630.5" y="299.3" font-size="10.6" text-anchor="start" style="font-family:'Liberation Serif',serif" fill="#111">Nanog</text>
<text transform="translate(648.0,359.0) rotate(-90)" font-size="7.8" text-anchor="middle" style="font-family:'Liberation Serif',serif" fill="#222">C<tspan font-size="4.8" dy="1.4">t</tspan></text>
<text x="0" y="93.5" font-size="200" text-anchor="middle" transform="translate(739.2,332.0) scale(0.0900,0.1068)" style="font-family:'Liberation Serif',serif" fill="#505050">*</text>
</svg>
</body></html>
